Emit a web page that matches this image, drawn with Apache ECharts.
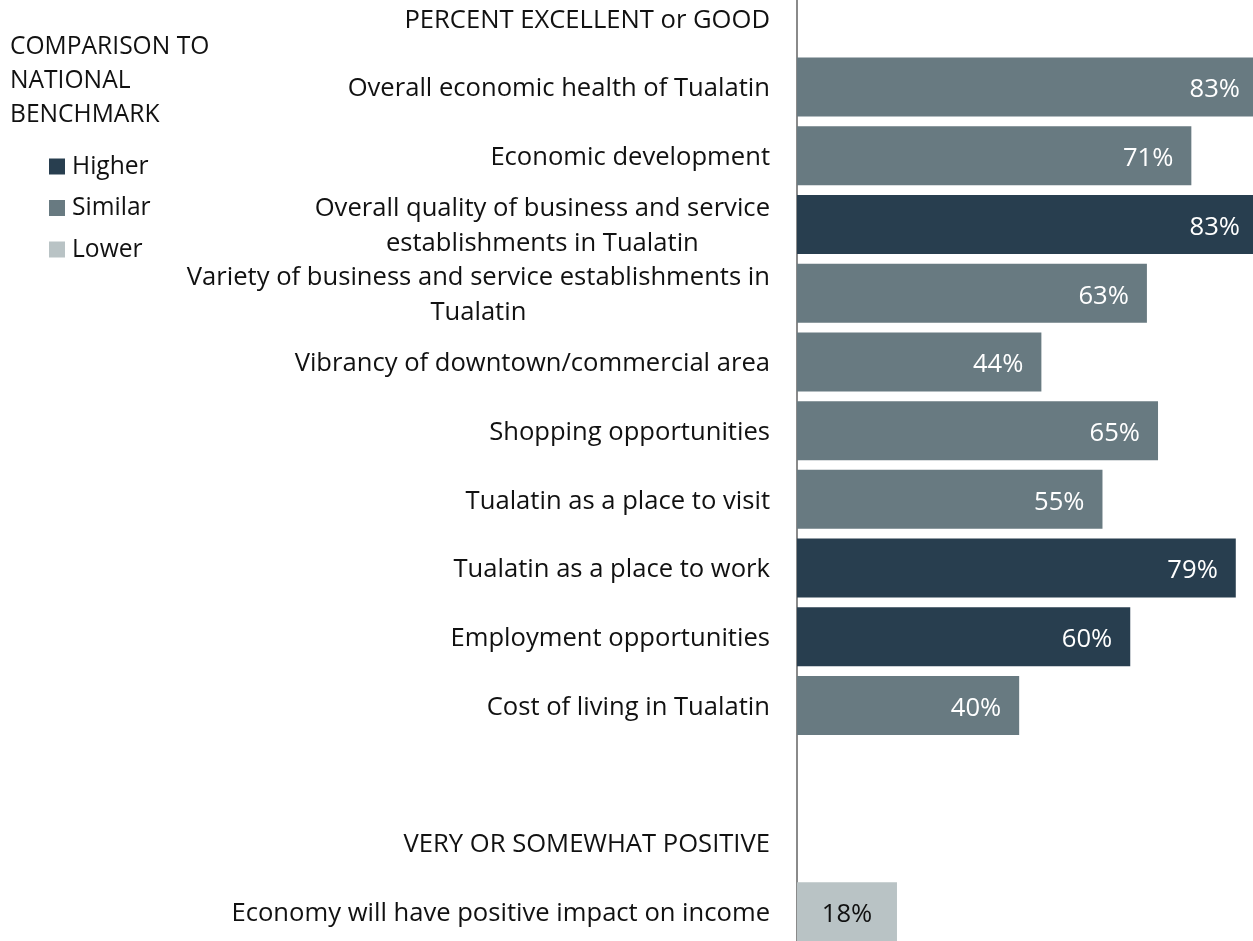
<!DOCTYPE html>
<html><head><meta charset="utf-8">
<script src="https://cdn.jsdelivr.net/npm/echarts@6/dist/echarts.min.js"></script>
<style>html,body{margin:0;padding:0;background:#fff}#c{width:1253px;height:941px}</style>
</head><body><div id="c"></div>
<script>
// ---- data ----
const categories = [
  'PERCENT EXCELLENT or GOOD',
  'Overall economic health of Tualatin',
  'Economic development',
  'Overall quality of business and service\nestablishments in Tualatin',
  'Variety of business and service establishments in\nTualatin',
  'Vibrancy of downtown/commercial area',
  'Shopping opportunities',
  'Tualatin as a place to visit',
  'Tualatin as a place to work',
  'Employment opportunities',
  'Cost of living in Tualatin',
  '',
  'VERY OR SOMEWHAT POSITIVE',
  'Economy will have positive impact on income'
];
const higherValues  = [null, null, null, 83, null, null, null, null, 79, 60, null, null, null, null];
const similarValues = [null, 83, 71, null, 63, 44, 65, 55, null, null, 40, null, null, null];
const lowerValues   = [null, null, null, null, null, null, null, null, null, null, null, null, null, 18];
const seriesNames = ['Higher', 'Similar', 'Lower'];
const legendTitle = 'COMPARISON TO\nNATIONAL\nBENCHMARK';

// ---- style ----
const FONT = '"Open Sans", sans-serif';
const cv = document.createElement('canvas').getContext('2d');
cv.font = '100px "Open Sans"';
const FS = Math.round(100 * 423 / cv.measureText('Overall economic health of Tualatin').width * 10) / 10;
const TXT = '#111111';
const colors = ['#283e4f', '#687a81', '#b9c3c5'];

const chart = echarts.init(document.getElementById('c'), null, {renderer: 'canvas'});
function mk(name, data, color, labelColor, pos, dist) {
  return {
    name, type: 'bar', stack: 'all', data,
    barWidth: 59,
    itemStyle: {color},
    label: {
      show: true, position: pos, distance: dist, offset: [0, 3],
      color: labelColor, fontSize: FS, fontFamily: FONT,
      formatter: p => (p.value == null ? '' : p.value + '%')
    }
  };
}
chart.setOption({
  animation: false,
  backgroundColor: '#ffffff',
  textStyle: {fontFamily: FONT},
  grid: {left: 797, width: 461, top: -16, height: 962, containLabel: false, outerBoundsMode: 'none'},
  xAxis: {type: 'value', min: 0, max: 83, show: false},
  yAxis: {
    type: 'category', inverse: true, data: categories,
    axisLine: {show: true, lineStyle: {color: '#8a8a8a', width: 2}},
    axisTick: {show: false},
    axisLabel: {
      margin: 27, align: 'right',
      fontSize: FS, fontFamily: FONT, color: TXT, lineHeight: 35,
      padding: [4, 0, 0, 0],
      formatter: v => v.split('\n').map(l => '{c|' + l + '}').join('\n'),
      rich: {c: {align: 'center', fontSize: FS, fontFamily: FONT, color: TXT, lineHeight: 35}}
    }
  },
  legend: {
    orient: 'vertical', left: 44, top: 149,
    icon: 'rect', itemWidth: 16, itemHeight: 16, itemGap: 16.5,
    data: seriesNames,
    textStyle: {fontSize: FS - 1, fontFamily: FONT, color: TXT, padding: [0, 0, 0, 2]}
  },
  graphic: [{
    type: 'text', left: 10, top: 30,
    style: {text: legendTitle, fontSize: FS - 1, fontFamily: FONT, fill: TXT, lineHeight: 34}
  }],
  series: [
    mk(seriesNames[0], higherValues, colors[0], '#ffffff', 'insideRight', 18),
    mk(seriesNames[1], similarValues, colors[1], '#ffffff', 'insideRight', 18),
    mk(seriesNames[2], lowerValues, colors[2], '#111111', 'inside', 0)
  ]
});
</script>
</body></html>
